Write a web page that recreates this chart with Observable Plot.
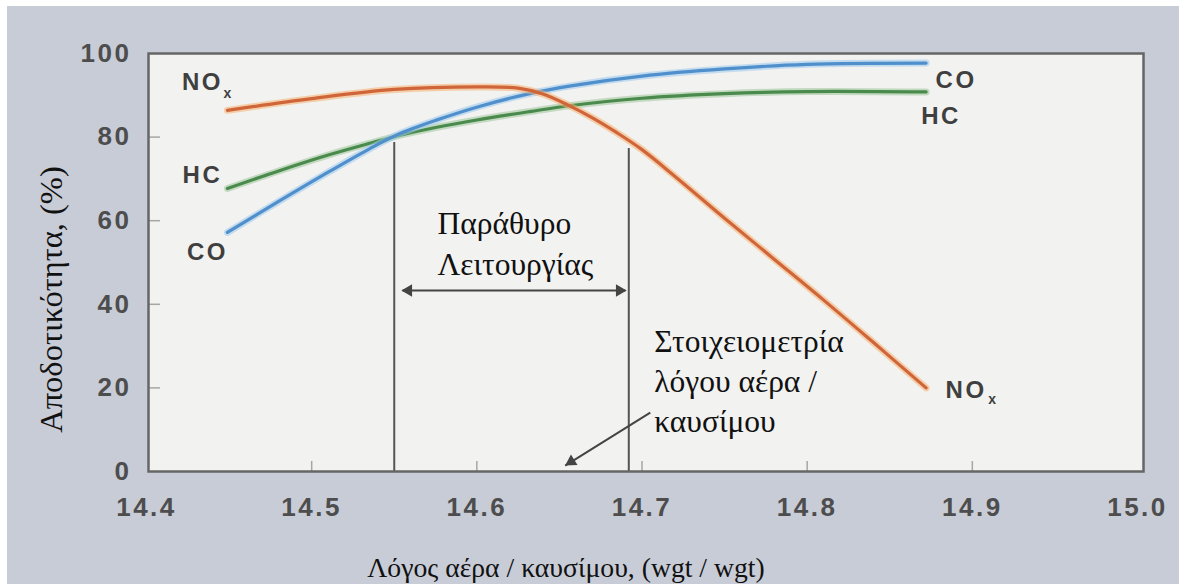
<!DOCTYPE html>
<html>
<head>
<meta charset="utf-8">
<script src="https://cdn.jsdelivr.net/npm/d3@7"></script>
<script src="https://cdn.jsdelivr.net/npm/@observablehq/plot@0.6"></script>
<style>
  html, body { margin: 0; padding: 0; background: #ffffff; }
  #chart { position: absolute; left: 7px; top: 6px; width: 1172px; height: 578px; background: #c8ccd6; }
  #chart g[aria-label="x-axis tick label"] text,
  #chart g[aria-label="y-axis tick label"] text,
  #chart g.series-label text { letter-spacing: 2.5px; }
</style>
</head>
<body>
<div id="chart"></div>
<script>
// Air/fuel ratio (wgt/wgt) vs. conversion efficiency (%) of a three-way catalyst
const xTicks = [14.4, 14.5, 14.6, 14.7, 14.8, 14.9, 15.0];
const yTicks = [0, 20, 40, 60, 80, 100];

// [air/fuel ratio, efficiency %]
const nox = [
  [14.449, 86.4], [14.50, 89.2], [14.55, 91.4], [14.60, 92.0], [14.625, 91.7],
  [14.64, 90.3], [14.655, 87.7], [14.67, 84.6], [14.685, 81.0], [14.70, 77.0],
  [14.72, 70.6], [14.75, 60.6], [14.78, 50.8], [14.81, 41.0], [14.84, 30.9], [14.872, 20.0]
];
const hc = [
  [14.449, 67.7], [14.48, 71.9], [14.51, 75.7], [14.535, 78.5], [14.555, 80.6],
  [14.575, 82.3], [14.60, 84.1], [14.632, 86.1], [14.656, 87.5], [14.70, 89.3],
  [14.75, 90.4], [14.80, 90.9], [14.872, 90.8]
];
const co = [
  [14.449, 57.2], [14.48, 64.6], [14.51, 71.6], [14.535, 77.2], [14.552, 80.6],
  [14.575, 84.0], [14.602, 87.4], [14.632, 90.4], [14.656, 92.2], [14.70, 94.6],
  [14.75, 96.3], [14.80, 97.4], [14.872, 97.7]
];

// operating window edges and the stoichiometric pointer
const windowEdges = [14.55, 14.692];
const windowEdgeTops = [78.7, 77.3];
const windowSpan = {x1: 14.555, x2: 14.69, y: 43.3};
const stoichPointer = {x1: 14.705, y1: 14.1, x2: 14.6535, y2: 1.4};

const windowLabel = "Παράθυρο\nΛειτουργίας";
const stoichLabel = "Στοιχειομετρία\nλόγου αέρα /\nκαυσίμου";
const yTitle = "Αποδοτικότητα, (%)";
const xTitle = "Λόγος αέρα / καυσίμου, (wgt / wgt)";

const X = d => d[0], Y = d => d[1];
const first = a => [a[0]];
const last = a => [a[a.length - 1]];

const sans = "Liberation Sans, Arial, sans-serif";
const serif = "Liberation Serif, Times New Roman, serif";
const labelStyle = {x: X, y: Y, fontFamily: sans, fontWeight: "bold", fontSize: 24, fill: "#3f3f3f", className: "series-label"};
const subStyle = {x: X, y: Y, fontFamily: sans, fontWeight: "bold", fontSize: 14, fill: "#3f3f3f"};

const curve = "catmull-rom";
function seriesLine(data, halo, core) {
  return [
    Plot.line(data, {x: X, y: Y, curve, stroke: halo, strokeWidth: 7, strokeOpacity: 0.55}),
    Plot.line(data, {x: X, y: Y, curve, stroke: core, strokeWidth: 3.2})
  ];
}

const chart = Plot.plot({
  width: 1172,
  height: 578,
  marginLeft: 139,
  marginRight: 42,
  marginTop: 47,
  marginBottom: 113,
  style: {background: "transparent", overflow: "visible"},
  x: {domain: [14.4, 15.0]},
  y: {domain: [0, 100]},
  marks: [
    Plot.frame({fill: "#f2f2f0", stroke: "none", insetLeft: 2, insetRight: -6}),

    // faint inner tick marks
    Plot.axisX(xTicks.slice(1, -1), {tickSize: 10, dy: -10, tickFormat: () => "", stroke: "#a6a6a6", strokeWidth: 1.5}),
    Plot.axisY(yTicks.slice(1, -1), {tickSize: 12, dx: 14, tickFormat: () => "", stroke: "#a6a6a6", strokeWidth: 1.5}),

    // tick labels
    Plot.axisX(xTicks, {tickSize: 0, tickPadding: 26, tickFormat: d => d.toFixed(1),
      fontFamily: sans, fontWeight: "bold", fontSize: 26, fill: "#4d4d4d", label: null}),
    Plot.axisY(yTicks, {tickSize: 0, tickPadding: 15, tickFormat: d => String(d),
      fontFamily: sans, fontWeight: "bold", fontSize: 26, fill: "#4d4d4d", label: null}),

    // window edges
    Plot.ruleX(windowEdges, {x: d => d, y1: 0, y2: (d, i) => windowEdgeTops[i], stroke: "#555", strokeWidth: 2}),

    // emission curves
    ...seriesLine(hc, "#9cc79a", "#4a8a4c"),
    ...seriesLine(co, "#9cc8ee", "#4f8fcc"),
    ...seriesLine(nox, "#f5b070", "#d0653a"),

    Plot.frame({stroke: "#666", strokeWidth: 2.5, insetLeft: 2, insetRight: -6}),

    // series labels at both ends
    Plot.text(first(nox), {...labelStyle, text: () => "NO", dx: -25, dy: -28}),
    Plot.text(first(nox), {...subStyle, text: () => "x", dx: 0, dy: -17}),
    Plot.text(first(hc), {...labelStyle, text: () => "HC", dx: -25, dy: -13}),
    Plot.text(first(co), {...labelStyle, text: () => "CO", dx: -20, dy: 20}),
    Plot.text(last(co), {...labelStyle, text: () => "CO", dx: 30, dy: 17}),
    Plot.text(last(hc), {...labelStyle, text: () => "HC", dx: 15, dy: 24}),
    Plot.text(last(nox), {...labelStyle, text: () => "NO", dx: 40, dy: 2}),
    Plot.text(last(nox), {...subStyle, text: () => "x", dx: 66, dy: 12}),

    // operating window span
    Plot.link([windowSpan], {x1: "x1", x2: "x2", y1: "y", y2: "y", stroke: "#444", strokeWidth: 2}),
    Plot.dot([windowSpan], {x: "x1", y: "y", symbol: "triangle", r: 4.6, rotate: -90, dx: 6, fill: "#444", stroke: "none"}),
    Plot.dot([windowSpan], {x: "x2", y: "y", symbol: "triangle", r: 4.6, rotate: 90, dx: -6, fill: "#444", stroke: "none"}),
    Plot.text([windowSpan], {x: "x1", y: "y", text: () => windowLabel, textAnchor: "start", lineAnchor: "middle",
      lineHeight: 1.3, dx: 35, dy: -49, fontFamily: serif, fontSize: 31.5, fill: "#111"}),

    // stoichiometric pointer
    Plot.link([stoichPointer], {x1: "x1", y1: "y1", x2: "x2", y2: "y2", stroke: "#444", strokeWidth: 2}),
    Plot.dot([stoichPointer], {x: "x2", y: "y2", symbol: "triangle", r: 4.6, rotate: 238, dx: 6, dy: -4, fill: "#444", stroke: "none"}),
    Plot.text([stoichPointer], {x: "x1", y: "y1", text: () => stoichLabel, textAnchor: "start", lineAnchor: "middle",
      lineHeight: 1.27, dx: 4, dy: -33, fontFamily: serif, fontSize: 31.5, fill: "#111"}),

    // axis titles
    Plot.text([yTitle], {frameAnchor: "left", rotate: -90, textAnchor: "middle", lineAnchor: "middle", dx: -95, dy: 37,
      fontFamily: serif, fontSize: 32.5, fill: "#111"}),
    Plot.text([xTitle], {frameAnchor: "bottom", textAnchor: "middle", lineAnchor: "middle", dx: -76, dy: 97,
      fontFamily: serif, fontSize: 27.7, fill: "#111"})
  ]
});

document.getElementById("chart").appendChild(chart);
</script>
</body>
</html>
